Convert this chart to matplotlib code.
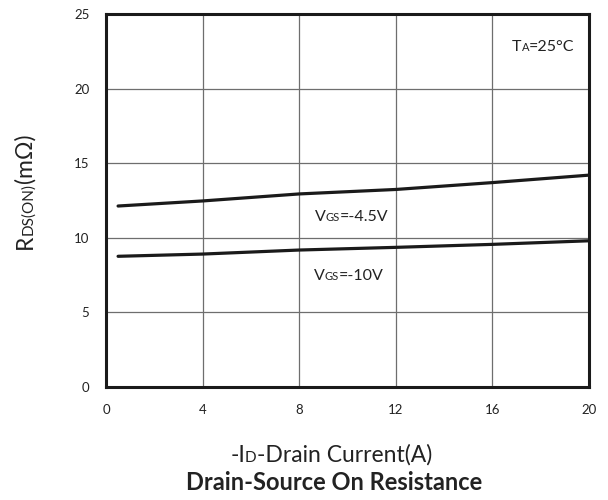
import matplotlib
matplotlib.use("Agg")
from matplotlib import pyplot as plt

plt.rcParams['font.family'] = ['Lato', 'DejaVu Sans']

# Values
drain_current = [0.5, 4, 8, 12, 16, 20]
rds_vgs_4v5 = [12.13, 12.47, 12.94, 13.24, 13.70, 14.20]
rds_vgs_10v = [8.76, 8.91, 9.18, 9.36, 9.56, 9.80]
x_ticks = [0, 4, 8, 12, 16, 20]
y_ticks = [0, 5, 10, 15, 20, 25]

W, H = 608, 500


def rich_text(fig, x_px, y_px, parts, rotation=0, center=True, **kw):
    # Draw a line made of pieces of different size on one baseline
    renderer = fig.canvas.get_renderer()
    texts = []
    lengths = []
    for s, size, weight in parts:
        t = fig.text(0, 0, s, fontsize=size, fontweight=weight, rotation=rotation,
                     rotation_mode='anchor', ha='left', va='baseline', **kw)
        bb = t.get_window_extent(renderer)
        texts.append(t)
        lengths.append(bb.height if rotation == 90 else bb.width)
    total = sum(lengths)
    pos = -total / 2 if center else 0
    for t, length in zip(texts, lengths):
        if rotation == 90:
            t.set_position((x_px / W, (H - y_px + pos) / H))
        else:
            t.set_position(((x_px + pos) / W, (H - y_px) / H))
        pos += length
    return texts


fig = plt.figure(figsize=(6.08, 5.0), dpi=100)
ax = fig.add_axes([106 / W, (H - 387) / H, (589 - 106) / W, (387 - 14) / H])

ax.plot(drain_current, rds_vgs_4v5, color='#1a1a1a', lw=2.3, solid_capstyle='round')
ax.plot(drain_current, rds_vgs_10v, color='#1a1a1a', lw=2.3, solid_capstyle='round')

ax.set_xlim(0, 20)
ax.set_ylim(0, 25)
ax.set_xticks(x_ticks)
ax.set_yticks(y_ticks)
ax.tick_params(length=0, labelsize=9.5, pad=12, colors='#222222')
ax.grid(True, color='#6e6e6e', lw=0.9)
ax.set_axisbelow(True)
for sp in ax.spines.values():
    sp.set_linewidth(2.2)
    sp.set_color('#1a1a1a')

fig.canvas.draw()

# curve labels
rich_text(fig, 315, 221, [("V", 11.5, 'normal'), ("GS", 8, 'normal'), ("=-4.5V", 11.5, 'normal')],
          center=False, color='#222222')
rich_text(fig, 314, 280, [("V", 11.5, 'normal'), ("GS", 8, 'normal'), ("=-10V", 11.5, 'normal')],
          center=False, color='#222222')
rich_text(fig, 512, 51, [("T", 11.5, 'normal'), ("A", 8, 'normal'), ("=25°C", 11.5, 'normal')],
          center=False, color='#222222')

# axis labels and title
rich_text(fig, 32, 191, [("R", 16.5, 'normal'), ("DS(ON)", 11, 'normal'), ("(mΩ)", 16.5, 'normal')],
          rotation=90, color='#222222')
rich_text(fig, 331, 462, [("-I", 16.5, 'normal'), ("D", 11, 'normal'), ("-Drain Current(A)", 16.5, 'normal')],
          color='#222222')
rich_text(fig, 334, 490, [("Drain-Source On Resistance", 17, 'bold')], color='#222222')

fig.savefig('out.png', dpi=100)
